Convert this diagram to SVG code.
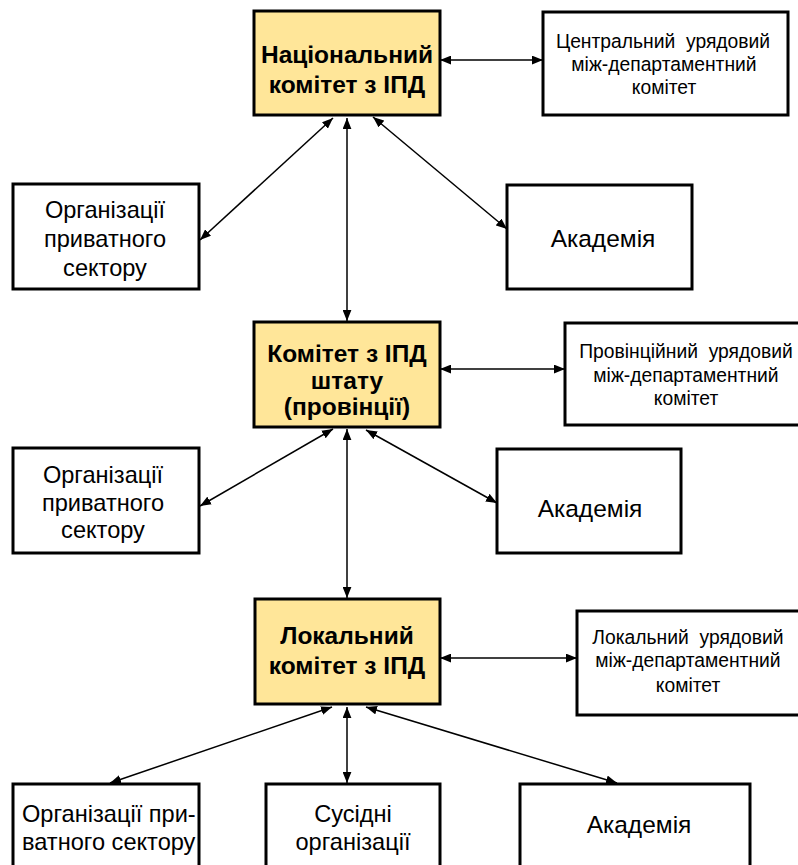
<svg xmlns="http://www.w3.org/2000/svg" width="798" height="865" viewBox="0 0 798 865">
  <style>
    .box { fill: #ffffff; stroke: #000000; stroke-width: 3; }
    .main { fill: #ffe699; stroke: #000000; stroke-width: 3; }
    .title { font-family: "Liberation Sans", Arial, sans-serif; font-size: 24.5px; font-weight: bold; fill: #000000; text-anchor: middle; }
    .label { font-family: "Liberation Sans", Arial, sans-serif; font-size: 23.6px; fill: #000000; text-anchor: middle; }
    .acad { font-size: 24.5px; }
    .small { font-family: "Liberation Sans", Arial, sans-serif; font-size: 19.3px; fill: #000000; text-anchor: middle; }
    .link { stroke: #000000; stroke-width: 1.5; fill: none; marker-start: url(#arrow); marker-end: url(#arrow); }
  </style>
  <defs>
    <marker id="arrow" viewBox="0 0 10 8" refX="10" refY="4" markerWidth="11" markerHeight="9" markerUnits="userSpaceOnUse" orient="auto-start-reverse">
      <path d="M0,0 L10,4 L0,8 z" fill="#000000"/>
    </marker>
  </defs>

  <rect width="798" height="865" fill="#ffffff"/>

  <!-- connectors -->
  <g id="connectors">
    <line class="link" x1="440" y1="60" x2="543" y2="60"/>
    <line class="link" x1="333" y1="118" x2="200" y2="240"/>
    <line class="link" x1="347" y1="118" x2="347" y2="321"/>
    <line class="link" x1="373" y1="117" x2="507" y2="229"/>

    <line class="link" x1="440" y1="369" x2="565" y2="369"/>
    <line class="link" x1="333" y1="429" x2="200" y2="506"/>
    <line class="link" x1="347" y1="429" x2="347" y2="598"/>
    <line class="link" x1="366" y1="430" x2="497" y2="503"/>

    <line class="link" x1="440" y1="658" x2="577" y2="658"/>
    <line class="link" x1="332" y1="707" x2="110" y2="783"/>
    <line class="link" x1="347" y1="707" x2="347" y2="783"/>
    <line class="link" x1="366" y1="707" x2="617" y2="783"/>
  </g>

  <!-- national level -->
  <g id="national-committee">
    <rect class="main" x="254" y="11" width="186" height="104"/>
    <text class="title" x="347" y="63">Національний</text>
    <text class="title" x="347" y="93">комітет з ІПД</text>
  </g>
  <g id="central-gov-committee">
    <rect class="box" x="543" y="12" width="245" height="103"/>
    <text class="small" x="663" y="48" xml:space="preserve">Центральний  урядовий</text>
    <text class="small" x="664" y="71">між-департаментний</text>
    <text class="small" x="664" y="94">комітет</text>
  </g>
  <g id="private-sector-1">
    <rect class="box" x="13" y="184" width="186" height="105"/>
    <text class="label" x="105" y="218">Організації</text>
    <text class="label" x="105" y="247">приватного</text>
    <text class="label" x="105" y="276">сектору</text>
  </g>
  <g id="academy-1">
    <rect class="box" x="507" y="185" width="185" height="104"/>
    <text class="label acad" x="603" y="247">Академія</text>
  </g>

  <!-- state / provincial level -->
  <g id="state-committee">
    <rect class="main" x="254" y="322" width="186" height="105"/>
    <text class="title" x="347" y="362">Комітет з ІПД</text>
    <text class="title" x="347" y="389">штату</text>
    <text class="title" x="347" y="415">(провінції)</text>
  </g>
  <g id="provincial-gov-committee">
    <rect class="box" x="565" y="323" width="245" height="102"/>
    <text class="small" x="686" y="358" xml:space="preserve">Провінційний  урядовий</text>
    <text class="small" x="686" y="382">між-департаментний</text>
    <text class="small" x="686" y="405">комітет</text>
  </g>
  <g id="private-sector-2">
    <rect class="box" x="13" y="448" width="186" height="105"/>
    <text class="label" x="103" y="483">Організації</text>
    <text class="label" x="103" y="511">приватного</text>
    <text class="label" x="103" y="538">сектору</text>
  </g>
  <g id="academy-2">
    <rect class="box" x="497" y="449" width="184" height="104"/>
    <text class="label acad" x="590" y="517">Академія</text>
  </g>

  <!-- local level -->
  <g id="local-committee">
    <rect class="main" x="255" y="599" width="185" height="105"/>
    <text class="title" x="347" y="644">Локальний</text>
    <text class="title" x="347" y="674">комітет з ІПД</text>
  </g>
  <g id="local-gov-committee">
    <rect class="box" x="577" y="611" width="223" height="104"/>
    <text class="small" x="688" y="644" xml:space="preserve">Локальний  урядовий</text>
    <text class="small" x="688" y="667">між-департаментний</text>
    <text class="small" x="688" y="692">комітет</text>
  </g>
  <g id="private-sector-3">
    <text class="label" x="22" y="822" style="text-anchor: start">Організації при-</text>
    <text class="label" x="22" y="850" style="text-anchor: start">ватного сектору</text>
    <rect class="box" x="13" y="784" width="186" height="90" style="fill: none"/>
  </g>
  <g id="neighbour-orgs">
    <rect class="box" x="266" y="784" width="174" height="90"/>
    <text class="label" x="353" y="822">Сусідні</text>
    <text class="label" x="353" y="850">організації</text>
  </g>
  <g id="academy-3">
    <rect class="box" x="520" y="784" width="230" height="90"/>
    <text class="label acad" x="639" y="833">Академія</text>
  </g>
</svg>
